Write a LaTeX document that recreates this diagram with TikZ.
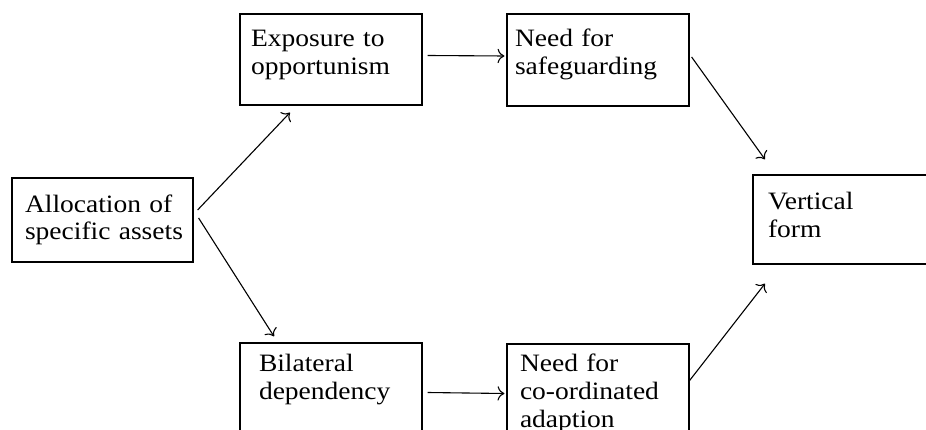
\documentclass[tikz,border=0pt]{standalone}
\usepackage{fontspec}
\setmainfont[FakeStretch=1.1]{Liberation Serif}
\usetikzlibrary{arrows.meta}

\tikzset{
  blk/.style={draw, line width=1.2pt, text width=160pt, align=left,
    inner xsep=11pt, inner ysep=4pt, text height=29pt, text depth=54pt,
    font=\fontsize{25}{28}\selectfont},
  lnk/.style={line width=1.1pt, -{To[scale=1.7]}}
}

\begin{document}
\begin{tikzpicture}[x=1pt,y=1pt]
  \useasboundingbox (0,0) rectangle (926,429);
  % boxes
  \node[blk, text height=30pt, text depth=46pt, inner xsep=13pt, text width=155pt] (alloc) at (102.5,209) {\mbox{Allocation of}\\\mbox{specific assets}};
  \node[blk] (expo) at (331,369.5) {\mbox{Exposure to}\\opportunism};
  \node[blk, text depth=55pt, inner xsep=8pt, text width=166pt] (safe) at (598,369) {\mbox{Need for}\\safeguarding};
  \node[blk, text height=24pt, text depth=59pt, inner xsep=19pt, text width=144pt] (bilat) at (331,40.5) {Bilateral\\dependency};
  \node[blk, text height=23pt, text depth=60pt, inner xsep=13pt, text width=156pt] (coord) at (598,39.5) {\mbox{Need for}\\co-ordinated\\adaption};
  \node[blk, text height=31pt, text depth=50pt, inner xsep=15pt, text width=152pt] (vert) at (844,209.5) {Vertical\\form};
  % connectors
  \draw[lnk] ([xshift=4pt,yshift=10pt]alloc.east) -- ([xshift=-41pt,yshift=-7pt]expo.south);
  \draw[lnk] ([xshift=5pt,yshift=2pt]alloc.east) -- ([xshift=-57pt,yshift=6pt]bilat.north);
  \draw[lnk] ([xshift=5pt,yshift=4pt]expo.east) -- ([xshift=-2pt,yshift=4pt]safe.west);
  \draw[lnk] ([xshift=5pt,yshift=-4pt]bilat.east) -- ([xshift=-2pt,yshift=-4pt]coord.west);
  \draw[lnk] ([xshift=2pt,yshift=3pt]safe.east) -- ([xshift=-79pt,yshift=15pt]vert.north);
  \draw[lnk] ([yshift=9pt]coord.east) -- ([xshift=-79pt,yshift=-19pt]vert.south);
\end{tikzpicture}
\end{document}
